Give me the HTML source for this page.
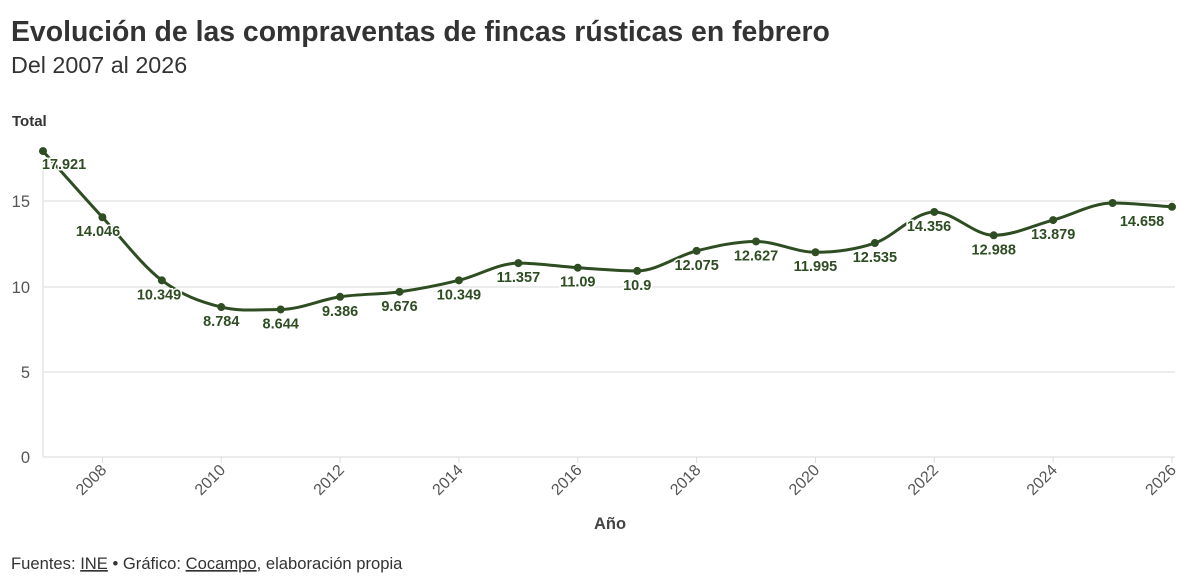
<!DOCTYPE html>
<html><head><meta charset="utf-8"><style>
body{margin:0;width:1200px;height:575px;background:#fff;overflow:hidden;font-family:"Liberation Sans",sans-serif}
</style></head><body>
<svg width="1200" height="575" xmlns="http://www.w3.org/2000/svg" font-family="Liberation Sans, sans-serif">
<text x="11" y="41" font-size="28.4" font-weight="bold" fill="#333">Evolución de las compraventas de fincas rústicas en febrero</text>
<text x="11" y="73" font-size="23.3" fill="#333">Del 2007 al 2026</text>
<text x="12" y="126" font-size="15" font-weight="bold" fill="#333">Total</text>
<g stroke="#e6e6e6" stroke-width="1.5">
<line x1="43" x2="1175" y1="201" y2="201"/><line x1="43" x2="1175" y1="287" y2="287"/>
<line x1="43" x2="1175" y1="372" y2="372"/><line x1="43" x2="1175" y1="457" y2="457"/>
<line x1="43" x2="43" y1="160" y2="457"/>
</g>
<g font-size="16.5" fill="#555" text-anchor="end">
<text x="30" y="207">15</text><text x="30" y="293">10</text><text x="30" y="378">5</text><text x="30" y="463">0</text>
</g>
<g id="xt" font-size="16" fill="#555"></g>
<text x="610" y="529" font-size="16.5" font-weight="bold" fill="#444" text-anchor="middle">Año</text>
<path id="ln" fill="none" stroke="#2e4d23" stroke-width="3"/>
<g id="pts" fill="#2e4d23"></g>
<g id="lb" font-size="14.5" fill="#2e4d23" font-weight="bold" text-anchor="middle" stroke="#fff" stroke-width="3" paint-order="stroke"></g>
<text x="11" y="569" font-size="16.6" fill="#333">Fuentes: <tspan text-decoration="underline">INE</tspan> • Gráfico: <tspan text-decoration="underline">Cocampo</tspan>, elaboración propia</text>
</svg>
<script>
var v=[17.921,14.046,10.349,8.784,8.644,9.386,9.676,10.349,11.357,11.09,10.9,12.075,12.627,11.995,12.535,14.356,12.988,13.879,14.88,14.658];
var X=i=>43+59.42*i, Y=a=>457-17.07*a;
var p=v.map((a,i)=>[X(i),Y(a)]);
var n=p.length,d=[],m=[];
for(var i=0;i<n-1;i++)d.push((p[i+1][1]-p[i][1])/(p[i+1][0]-p[i][0]));
m[0]=d[0];m[n-1]=d[n-2];
for(i=1;i<n-1;i++){m[i]=(d[i-1]*d[i]<=0)?0:(d[i-1]+d[i])/2;}
var s="M"+p[0][0]+","+p[0][1];
for(i=0;i<n-1;i++){var h=(p[i+1][0]-p[i][0])/3;
s+=" C"+(p[i][0]+h)+","+(p[i][1]+m[i]*h)+" "+(p[i+1][0]-h)+","+(p[i+1][1]-m[i+1]*h)+" "+p[i+1][0]+","+p[i+1][1];}
document.getElementById('ln').setAttribute('d',s);
var NS="http://www.w3.org/2000/svg",g=document.getElementById('pts'),lb=document.getElementById('lb'),xt=document.getElementById('xt');
var txt=["17.921","14.046","10.349","8.784","8.644","9.386","9.676","10.349","11.357","11.09","10.9","12.075","12.627","11.995","12.535","14.356","12.988","13.879",null,"14.658"];
p.forEach((q,i)=>{var c=document.createElementNS(NS,'circle');c.setAttribute('cx',q[0]);c.setAttribute('cy',q[1]);c.setAttribute('r',4);g.appendChild(c);
if(txt[i]){var t=document.createElementNS(NS,'text');var x=q[0],y=q[1]+19;
if(i==0){x=64;y=q[1]+18}if(i==1)x=98;if(i==2)x=159;if(i==15)x=929;if(i==19){x=1142;y=q[1]+19}
t.setAttribute('x',x);t.setAttribute('y',y);t.textContent=txt[i];lb.appendChild(t);}
if(i%2==1){var l=document.createElementNS(NS,'line');l.setAttribute('x1',q[0]);l.setAttribute('x2',q[0]);l.setAttribute('y1',457);l.setAttribute('y2',463);l.setAttribute('stroke','#ddd');xt.appendChild(l);
var t2=document.createElementNS(NS,'text');t2.setAttribute('text-anchor','end');t2.setAttribute('transform','translate('+(q[0]+5)+',471) rotate(-45)');t2.textContent=2007+i;xt.appendChild(t2);}
});
</script>
</body></html>
